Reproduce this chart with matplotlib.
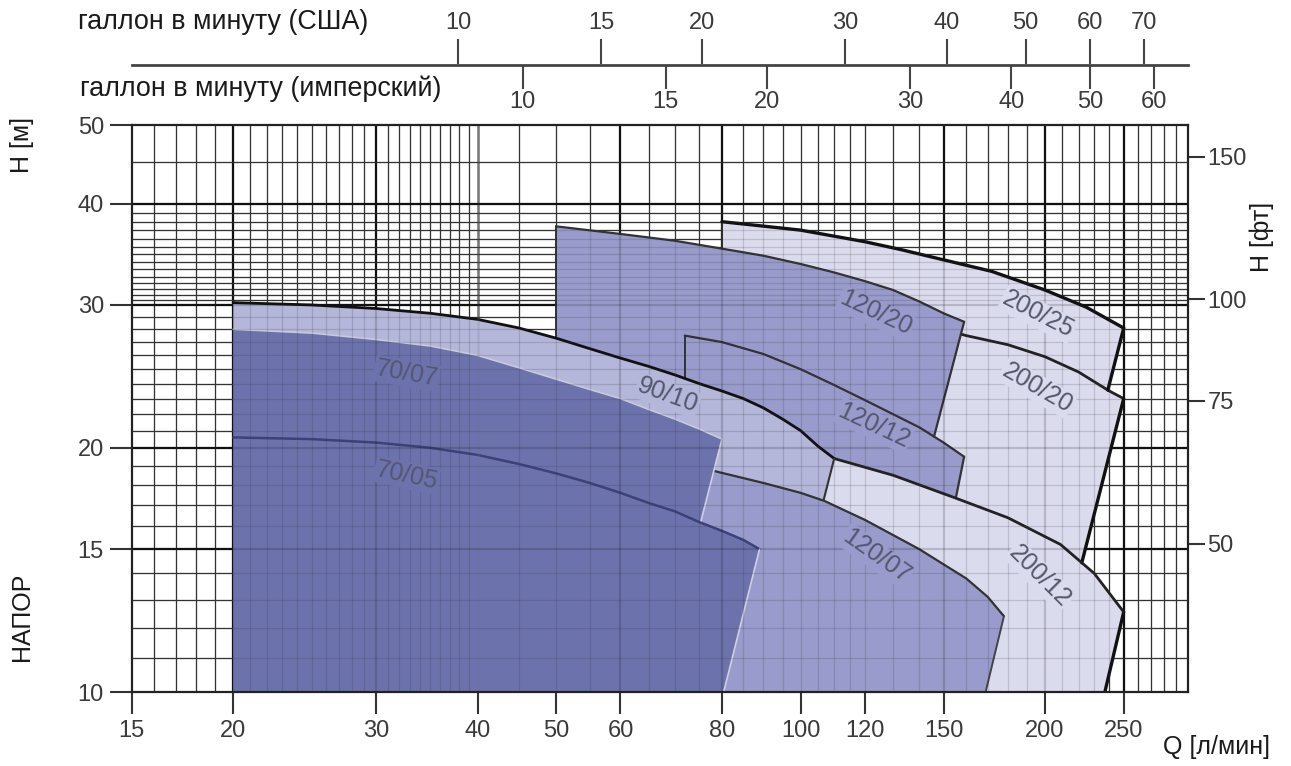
import numpy as np
import matplotlib.pyplot as plt
from matplotlib.ticker import NullLocator

plt.rcParams['font.family'] = ['Liberation Sans', 'DejaVu Sans']
NUM_FONT = ['Liberation Sans Narrow', 'Liberation Sans', 'DejaVu Sans']

# head curves: Q [l/min] -> H [m]
q_7007 = [20, 25, 30, 35, 40, 45, 50, 55, 60, 65, 70, 75, 80]
h_7007 = [28.0, 27.7, 27.2, 26.7, 26.0, 25.1, 24.3, 23.6, 23.0, 22.3, 21.7, 21.1, 20.5]

q_7005 = [20, 25, 30, 35, 40, 45, 50, 55, 60, 65, 70, 75, 80, 85, 89]
h_7005 = [20.6, 20.5, 20.3, 20.0, 19.6, 19.1, 18.6, 18.1, 17.6, 17.1, 16.7, 16.2, 15.8, 15.4, 15.0]

q_9010 = [20, 25, 30, 35, 40, 45, 50, 55, 60, 65, 70, 75, 80, 85, 90, 95, 100, 105, 110]
h_9010 = [30.2, 30.0, 29.7, 29.3, 28.8, 28.1, 27.3, 26.5, 25.8, 25.2, 24.6, 24.0, 23.5, 23.0, 22.4, 21.7, 21.0, 20.1, 19.4]

q_12020 = [50, 60, 70, 80, 90, 100, 110, 120, 130, 140, 150, 159]
h_12020 = [37.5, 36.7, 36.0, 35.2, 34.5, 33.7, 32.9, 32.1, 31.3, 30.3, 29.3, 28.6]

q_12012 = [72, 80, 90, 100, 110, 120, 130, 140, 150, 159]
h_12012 = [27.5, 27.0, 26.1, 25.0, 23.9, 22.9, 22.0, 21.2, 20.3, 19.5]

q_12007 = [70, 77, 90, 100, 107, 120, 140, 160, 170, 178]
h_12007 = [19.2, 18.8, 18.1, 17.6, 17.2, 16.3, 15.0, 13.8, 13.1, 12.4]

q_20025 = [80, 100, 120, 133, 150, 172, 200, 225, 250]
h_20025 = [38.0, 37.1, 35.9, 35.1, 34.1, 33.0, 31.3, 29.8, 28.1]

q_20020 = [150, 160, 180, 200, 220, 240, 250]
h_20020 = [28.0, 27.5, 26.8, 25.9, 24.8, 23.5, 23.0]

q_20012 = [110, 130, 155, 180, 209, 230, 250]
h_20012 = [19.4, 18.5, 17.35, 16.4, 15.2, 14.0, 12.55]

# flow where each end line comes down onto the curve below (or onto H = 10)
foot_7007 = 75.3
foot_7005 = 80.4
foot_9010 = 106.7
foot_12020 = 146
foot_12012 = 155.3
foot_12007 = 169
foot_20025 = 239
foot_20020 = 222
foot_20012 = 237

# curve names written on the chart
names = ['70/07', '70/05', '90/10', '120/20', '120/12', '120/07', '200/25', '200/20', '200/12']
name_q = [32.7, 32.7, 68.6, 123.6, 123, 124, 196, 195.5, 197]
name_h = [24.7, 18.5, 23.2, 29.3, 21.3, 14.7, 29.2, 23.7, 13.9]
name_rot = [-10, -12, -20, -25, -25, -35, -27, -30, -45]

# axis ticks
q_ticks = [15, 20, 30, 40, 50, 60, 80, 100, 120, 150, 200, 250]
h_ticks = [10, 15, 20, 30, 40, 50]
ft_ticks = [50, 75, 100, 150]
us_gpm_ticks = [10, 15, 20, 30, 40, 50, 60, 70]
imp_gpm_ticks = [10, 15, 20, 30, 40, 50, 60]

# log paper
grid_q_minor = [16, 17, 18, 19, 21, 22, 23, 24, 25, 26, 27, 28, 29, 31, 32, 33, 34, 35,
                36, 37, 38, 39, 45, 50, 55, 65, 70, 75, 85, 90, 95, 100, 105, 110, 115,
                120, 130, 140, 160, 170, 180, 190, 210, 220, 230, 240, 260, 270, 280, 290]
grid_q_major = [20, 30, 60, 80, 150, 200, 250]
grid_q_grey = [40]
grid_h_minor = [11, 12, 13, 14, 16, 17, 18, 19, 21, 22, 23, 24, 25, 26, 27, 28, 29,
                30.4, 30.9, 31.4, 31.9, 32.5, 33.2, 33.9, 34.7, 35.4, 36.2, 37.1, 38.0,
                39.0, 45]
grid_h_major = [15, 20, 30, 40]

c70 = '#6c72ac'
c90 = '#b4b6da'
c120 = '#989bcb'
c200 = '#dbdbee'


def h_on(q, h, x):
    return float(10 ** np.interp(np.log10(x), np.log10(q), np.log10(h)))


def part(q, h, q0, q1):
    pts = [(q0, h_on(q, h, q0))]
    pts += [(a, b) for a, b in zip(q, h) if q0 < a < q1]
    pts.append((q1, h_on(q, h, q1)))
    return pts


def fill(ax, pts, color, z):
    xs, ys = zip(*pts)
    ax.fill(xs, ys, color=color, lw=0, zorder=z)


def line(ax, pts, color, lw, z):
    xs, ys = zip(*pts)
    ax.plot(xs, ys, color=color, lw=lw, zorder=z, solid_capstyle='round')


fig = plt.figure(figsize=(12.91, 7.66), dpi=100)
L, B, W, H = 0.1020, 0.0966, 0.8182, 0.7402
ax = fig.add_axes([L, B, W, H])
ax.set_xscale('log')
ax.set_yscale('log')
ax.set_xlim(15, 300)
ax.set_ylim(10, 50)


def draw_grid(alpha, z):
    for v in grid_q_minor:
        ax.axvline(v, color='#333333', lw=0.9, alpha=alpha, zorder=z)
    for v in grid_q_grey:
        ax.axvline(v, color='#777777', lw=1.8, alpha=alpha, zorder=z)
    for v in grid_q_major:
        ax.axvline(v, color='#111111', lw=1.6, alpha=alpha, zorder=z)
    for v in grid_h_minor:
        ax.axhline(v, color='#333333', lw=0.9, alpha=alpha, zorder=z)
    for v in grid_h_major:
        ax.axhline(v, color='#111111', lw=1.6, alpha=alpha, zorder=z)


draw_grid(1.0, 1)

# 200 family (back)
poly = (part(q_20025, h_20025, 80, 250) + part(q_20020, h_20020, foot_20025, 250)
        + part(q_20012, h_20012, foot_20020, 250) + [(foot_20012, 10), (80, 10)])
fill(ax, poly, c200, 2)
line(ax, [(80, 10), (80, h_20025[0])], '#333333', 1.4, 2.1)
line(ax, part(q_20020, h_20020, 150, 250), '#222222', 2.0, 2.1)
line(ax, part(q_20025, h_20025, 80, 250), '#111111', 2.4, 2.1)
line(ax, [(250, h_20025[-1]), (foot_20025, h_on(q_20020, h_20020, foot_20025))], '#111111', 2.4, 2.1)
line(ax, [(250, h_20020[-1]), (foot_20020, h_on(q_20012, h_20012, foot_20020))], '#111111', 2.4, 2.1)
line(ax, [(250, h_20012[-1]), (foot_20012, 10)], '#111111', 2.4, 2.1)

# 120/20 and 120/12
poly = (part(q_12020, h_12020, 50, 159) + part(q_12012, h_12012, foot_12020, 159)
        + part(q_20012, h_20012, 110, foot_12012)[::-1] + part(q_9010, h_9010, 50, 110)[::-1])
fill(ax, poly, c120, 3)
line(ax, part(q_12020, h_12020, 50, 159), '#333333', 1.6, 3.1)
line(ax, [(50, h_12020[0]), (50, h_on(q_9010, h_9010, 50))], '#333333', 1.4, 3.1)
line(ax, [(159, h_12020[-1]), (foot_12020, h_on(q_12012, h_12012, foot_12020))], '#333333', 1.6, 3.1)
line(ax, part(q_12012, h_12012, 72, 159), '#333333', 1.6, 3.1)
line(ax, [(72, h_12012[0]), (72, h_on(q_9010, h_9010, 72))], '#333333', 1.4, 3.1)
line(ax, [(159, h_12012[-1]), (foot_12012, h_on(q_20012, h_20012, foot_12012))], '#333333', 1.6, 3.1)
line(ax, part(q_20012, h_20012, 110, 250), '#222222', 2.0, 3.1)

# 90/10
poly = (part(q_9010, h_9010, 20, 110)
        + [(foot_9010, h_on(q_12007, h_12007, foot_9010)), (foot_9010, 10), (20, 10)])
fill(ax, poly, c90, 4)
line(ax, part(q_9010, h_9010, 20, 110), '#111111', 2.0, 4.1)
line(ax, [(110, h_9010[-1]), (foot_9010, h_on(q_12007, h_12007, foot_9010))], '#333333', 1.5, 4.1)

# 120/07
poly = part(q_12007, h_12007, 70, 178) + [(foot_12007, 10), (70, 10)]
fill(ax, poly, c120, 5)
line(ax, part(q_12007, h_12007, 70, 178), '#333333', 1.6, 5.1)
line(ax, [(178, h_12007[-1]), (foot_12007, 10)], '#444444', 1.4, 5.1)

# 70 family (front)
poly = (part(q_7007, h_7007, 20, 80) + part(q_7005, h_7005, foot_7007, 89)
        + [(foot_7005, 10), (20, 10)])
fill(ax, poly, c70, 6)
line(ax, part(q_7007, h_7007, 20, 80), '#c9cadc', 1.2, 6.1)
line(ax, [(80, h_7007[-1]), (foot_7007, h_on(q_7005, h_7005, foot_7007))], '#d0d0e0', 1.2, 6.1)
line(ax, part(q_7005, h_7005, 20, 89), '#3c4278', 1.8, 6.1)
line(ax, [(89, h_7005[-1]), (foot_7005, 10)], '#d0d0e0', 1.2, 6.1)

# paper lines showing through the fills
draw_grid(0.18, 6.5)

fills = {'70': c70, '90': c90, '120': c120, '200': c200}
for name, q, h, rot in zip(names, name_q, name_h, name_rot):
    bg = fills[name.split('/')[0]]
    ax.text(q, h, name, rotation=rot, ha='center', va='center', fontsize=18,
            color='#55576e', zorder=7, rotation_mode='anchor',
            bbox=dict(boxstyle='square,pad=0.05', fc=bg, ec='none'))

for s in ax.spines.values():
    s.set_color('#222222')
    s.set_linewidth(1.6)
    s.set_zorder(8)

ax.set_xticks(q_ticks)
ax.set_xticklabels([str(v) for v in q_ticks])
ax.set_yticks(h_ticks)
ax.set_yticklabels([str(v) for v in h_ticks])
ax.xaxis.set_minor_locator(NullLocator())
ax.yaxis.set_minor_locator(NullLocator())
ax.tick_params(axis='both', direction='out', length=16, width=1.5, color='#333333',
               labelsize=17, labelcolor='#3a3a3a', pad=4)
for t in ax.get_xticklabels() + ax.get_yticklabels():
    t.set_fontfamily(NUM_FONT)

# feet on the right
sec = ax.secondary_yaxis('right', functions=(lambda m: m * 3.28084, lambda f: f / 3.28084))
sec.set_yticks(ft_ticks)
sec.set_yticklabels([str(v) for v in ft_ticks])
sec.yaxis.set_minor_locator(NullLocator())
sec.tick_params(direction='out', length=12, width=1.5, color='#333333',
                labelsize=17, labelcolor='#3a3a3a', pad=2)
for t in sec.get_yticklabels():
    t.set_fontfamily(NUM_FONT)
sec.spines['right'].set_visible(False)

# gallon scales above the chart
ax_g = fig.add_axes([L, 1 - 65 / 766, W, 0.001])
ax_g.set_xscale('log')
ax_g.set_xlim(15, 300)
ax_g.set_yticks([])
ax_g.set_xticks([])
ax_g.xaxis.set_minor_locator(NullLocator())
ax_g.patch.set_alpha(0)
for k in ('left', 'right', 'top'):
    ax_g.spines[k].set_visible(False)
ax_g.spines['bottom'].set_color('#444444')
ax_g.spines['bottom'].set_linewidth(2)

us = ax_g.secondary_xaxis('top', functions=(lambda q: q / 3.785, lambda g: g * 3.785))
us.set_xticks(us_gpm_ticks)
us.set_xticklabels([str(v) for v in us_gpm_ticks])
us.xaxis.set_minor_locator(NullLocator())
us.tick_params(direction='out', length=18, width=1.5, color='#444444',
               labelsize=17, labelcolor='#3a3a3a', pad=3.5)
us.spines['top'].set_visible(False)

imp = ax_g.secondary_xaxis('bottom', functions=(lambda q: q / 4.546, lambda g: g * 4.546))
imp.set_xticks(imp_gpm_ticks)
imp.set_xticklabels([str(v) for v in imp_gpm_ticks])
imp.xaxis.set_minor_locator(NullLocator())
imp.tick_params(direction='out', length=17, width=1.5, color='#444444',
                labelsize=17, labelcolor='#3a3a3a', pad=1.5)
imp.spines['bottom'].set_visible(False)
for t in us.get_xticklabels() + imp.get_xticklabels():
    t.set_fontfamily(NUM_FONT)

fig.text(78 / 1291, 1 - 22 / 766, 'галлон в минуту (США)', ha='left', va='center',
         fontsize=19.4, color='#1a1a1a')
fig.text(80 / 1291, 1 - 89 / 766, 'галлон в минуту (имперский)', ha='left', va='center',
         fontsize=19.4, color='#1a1a1a')
fig.text(22 / 1291, 1 - 145 / 766, 'H [м]', rotation=90, ha='center', va='center',
         fontsize=18, color='#1a1a1a')
fig.text(22 / 1291, 1 - 617 / 766, 'НАПОР', rotation=90, ha='center', va='center',
         fontsize=18, color='#1a1a1a')
fig.text(1262 / 1291, 1 - 237 / 766, 'H [фт]', rotation=90, ha='center', va='center',
         fontsize=18, color='#1a1a1a')
fig.text(1270 / 1291, 1 - 747 / 766, 'Q [л/мин]', ha='right', va='center',
         fontsize=18, color='#1a1a1a')

fig.savefig('out.png', dpi=100)
